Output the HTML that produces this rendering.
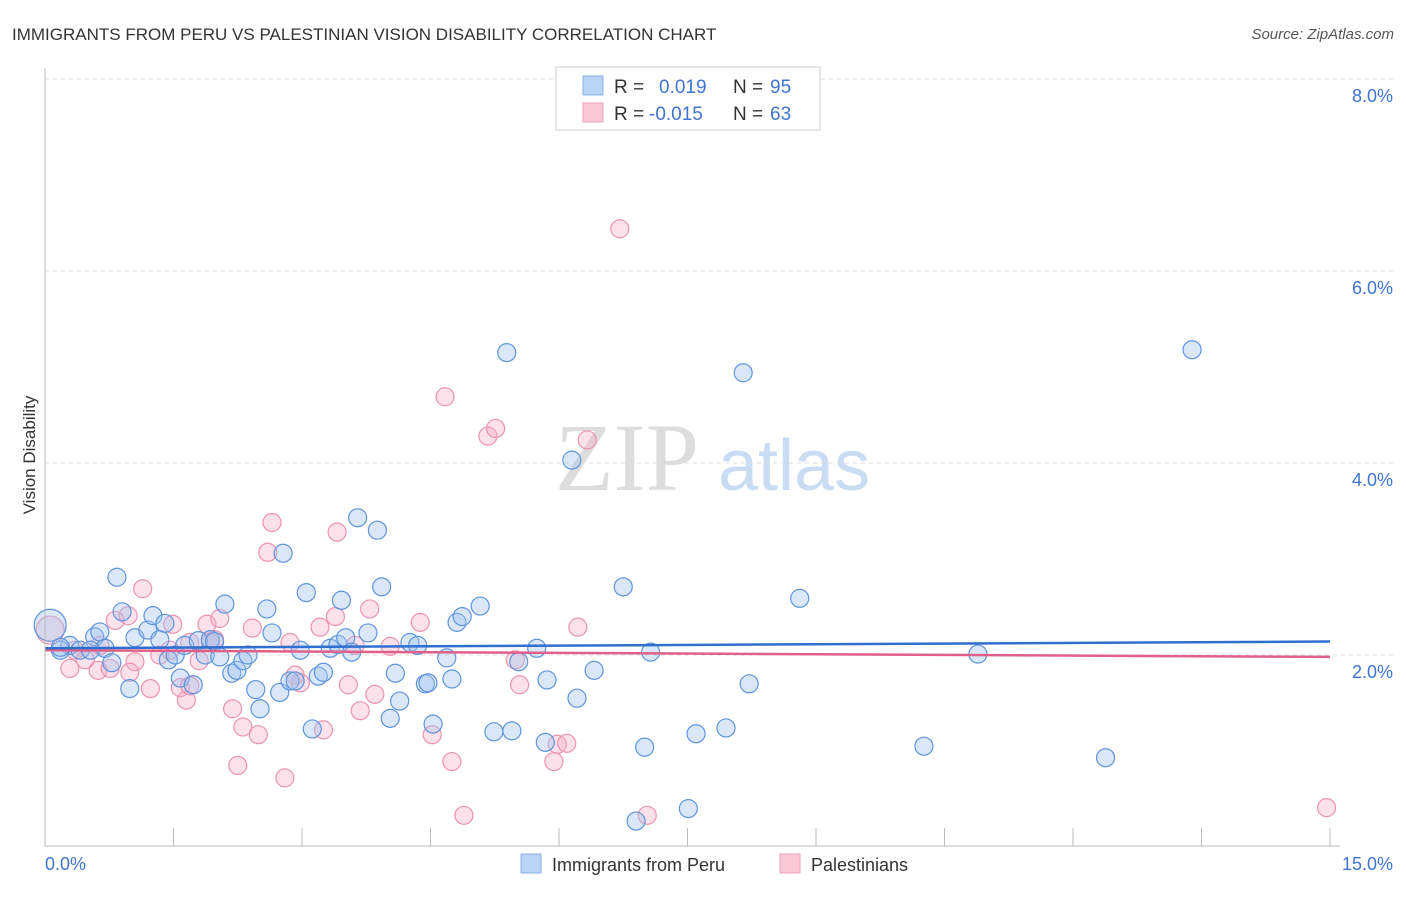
<!DOCTYPE html>
<html><head><meta charset="utf-8"><style>
body{margin:0;background:#fff;font-family:"Liberation Sans",sans-serif}
svg text{font-family:"Liberation Sans",sans-serif}
</style></head><body>
<svg width="1406" height="892" viewBox="0 0 1406 892" id="c">
<text x="12" y="40" font-size="17" fill="#333">IMMIGRANTS FROM PERU VS PALESTINIAN VISION DISABILITY CORRELATION CHART</text>
<text x="1394" y="39" font-size="15" fill="#555" text-anchor="end" font-style="italic">Source: ZipAtlas.com</text>
<text x="35" y="455" font-size="17" fill="#333" text-anchor="middle" transform="rotate(-90 35 455)">Vision Disability</text>
<g><text x="555" y="490" font-size="96" fill="#ddd" font-family="Liberation Serif" style="font-family:'Liberation Serif',serif">ZIP</text><text x="718" y="490" font-size="72" fill="#c9dcf3">atlas</text></g>
<g id="grid"></g><g id="pts"></g><g id="trend"></g>
<line x1="45" y1="68" x2="45" y2="846" stroke="#bbb"/>
<line x1="45" y1="846" x2="1340" y2="846" stroke="#bbb"/>
<text x="45" y="870" font-size="18" fill="#3f74d0">0.0%</text>
<text x="1393" y="870" font-size="18" fill="#3f74d0" text-anchor="end">15.0%</text>
<g>
<rect x="556" y="67" width="264" height="63" fill="#fff" stroke="#ccc"/>
<rect x="583" y="76" width="20" height="19" fill="#b9d3f5" stroke="#8ab0e8"/>
<rect x="583" y="103" width="20" height="19" fill="#fbc8d7" stroke="#f0a0b8"/>
<text x="614" y="93" font-size="19" fill="#333">R = </text><text x="659" y="93" font-size="19" fill="#3f74d0">0.019</text>
<text x="733" y="93" font-size="19" fill="#333">N = </text><text x="770" y="93" font-size="19" fill="#3f74d0">95</text>
<text x="614" y="120" font-size="19" fill="#333">R = </text><text x="649" y="120" font-size="19" fill="#3f74d0">-0.015</text>
<text x="733" y="120" font-size="19" fill="#333">N = </text><text x="770" y="120" font-size="19" fill="#3f74d0">63</text>
</g>
<g>
<rect x="521" y="854" width="20" height="19" fill="#b9d3f5" stroke="#8ab0e8"/>
<text x="552" y="871" font-size="18" fill="#333">Immigrants from Peru</text>
<rect x="780" y="854" width="20" height="19" fill="#fbc8d7" stroke="#f0a0b8"/>
<text x="811" y="871" font-size="18" fill="#333">Palestinians</text>
</g>
</svg>
<script>
const yTicks=[2,4,6,8];
const yTickLabels=["2.0%","4.0%","6.0%","8.0%"];
const xTicks=[0,1.5,3,4.5,6,7.5,9,10.5,12,13.5,15];
const peruX=[0.06,0.29,0.18,0.58,0.64,0.70,0.84,0.90,0.99,1.05,1.20,1.26,1.34,1.40,1.44,1.52,1.58,1.63,1.73,1.79,1.87,1.93,1.98,2.04,2.10,2.18,2.24,2.31,2.37,2.46,2.51,2.59,2.65,2.74,2.78,2.86,2.92,2.98,3.05,3.12,3.19,3.25,3.33,3.42,3.46,3.51,3.58,3.65,3.77,3.88,3.93,4.03,4.09,4.14,4.26,4.35,4.44,4.47,4.53,4.69,4.75,4.81,4.87,5.08,5.24,5.39,5.45,5.53,5.74,5.84,5.86,6.15,6.21,6.41,6.75,6.90,7.00,7.07,7.51,7.60,7.95,8.15,8.22,8.81,10.26,10.89,12.38,13.39,0.41,0.53,0.78,0.18];
const peruY=[2.31,2.10,2.05,2.19,2.24,2.07,2.81,2.45,1.65,2.18,2.26,2.41,2.16,2.33,1.95,2.00,1.76,2.10,1.69,2.15,2.00,2.16,2.14,1.98,2.53,1.81,1.84,1.94,2.00,1.64,1.44,2.48,2.23,1.61,3.06,1.73,1.73,2.05,2.65,1.23,1.78,1.82,2.07,2.11,2.57,2.18,2.03,3.43,2.23,3.30,2.71,1.34,1.81,1.52,2.13,2.10,1.70,1.71,1.28,1.97,1.75,2.34,2.40,2.51,1.20,5.15,1.21,1.93,2.07,1.09,1.74,4.03,1.55,1.84,2.71,0.27,1.04,2.03,0.40,1.18,1.24,4.94,1.70,2.59,1.05,2.01,0.93,5.18,2.05,2.05,1.92,2.08];
const palX=[0.06,0.35,0.29,0.47,0.62,0.76,0.82,0.97,1.05,1.14,1.23,1.34,1.46,1.49,1.58,1.65,1.69,1.80,1.89,1.93,1.98,2.04,2.19,2.25,2.31,2.42,2.49,2.60,2.65,2.80,2.86,2.92,2.98,3.21,3.25,3.39,3.41,3.54,3.62,3.68,3.79,3.85,4.03,4.38,4.52,4.67,4.75,4.89,5.17,5.26,5.49,5.54,5.94,5.98,6.09,6.22,6.33,6.71,7.03,14.96,1.69,0.64,0.99];
const palY=[2.26,2.05,1.86,1.95,1.84,1.86,2.36,2.41,1.93,2.69,1.65,2.00,2.05,2.32,1.66,1.53,1.68,1.94,2.32,2.13,2.16,2.38,1.44,0.85,1.25,2.28,1.17,3.07,3.38,0.72,2.13,1.79,1.71,2.29,1.22,2.40,3.28,1.69,2.10,1.42,2.48,1.59,2.09,2.34,1.17,4.69,0.89,0.33,4.28,4.36,1.95,1.69,0.89,1.07,1.08,2.29,4.24,6.44,0.33,0.41,2.13,2.10,1.82];
const peruTrend=[2.07,2.14];
const palTrend=[2.05,1.98];
const X=v=>45+v/15*1285, Y=v=>847-v*96;
const NS="http://www.w3.org/2000/svg";
function mk(t,a,p){const e=document.createElementNS(NS,t);for(const k in a)e.setAttribute(k,a[k]);p.appendChild(e);return e;}
const g=document.getElementById('grid');
yTicks.forEach((t,i)=>{
 const l=mk('line',{x1:45,x2:1395,y1:Y(t),y2:Y(t),stroke:'#ddd','stroke-dasharray':'4,4'},g);
 
 
 const tx=mk('text',{x:1393,y:Y(t)+23,'font-size':18,fill:'#3f74d0','text-anchor':'end'},g);
 tx.textContent=yTickLabels[i];
 
 
});
xTicks.forEach(t=>{
 const l=mk('line',{x1:X(t),x2:X(t),y1:828,y2:846,stroke:'#bbb'},g);
 
 
});
const p=document.getElementById('pts');
palX.forEach((x,i)=>{
 const c=mk('circle',{cx:X(x),cy:Y(palY[i]),r:i==0?14:9,fill:'rgba(247,170,195,0.35)',stroke:'#ec93b0','stroke-width':1.2},p);
 
 
});
peruX.forEach((x,i)=>{
 const c=mk('circle',{cx:X(x),cy:Y(peruY[i]),r:i==0?16:9,fill:'rgba(160,196,240,0.4)',stroke:'#5f94dc','stroke-width':1.2},p);
 
 
});
const tg=document.getElementById('trend');
const t1=mk('line',{x1:X(0),x2:X(15),y1:Y(palTrend[0]),y2:Y(palTrend[1]),stroke:'#e0608a','stroke-width':2.5},tg);


const t2=mk('line',{x1:X(0),x2:X(15),y1:Y(peruTrend[0]),y2:Y(peruTrend[1]),stroke:'#2f6fd0','stroke-width':2.5},tg);


</script>
</body></html>
